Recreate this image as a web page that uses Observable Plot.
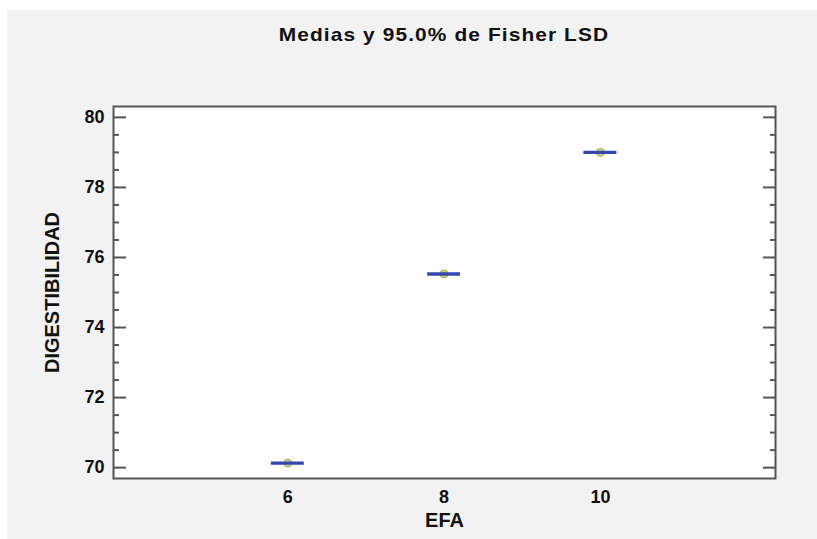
<!DOCTYPE html>
<html><head><meta charset="utf-8">
<script src="https://cdn.jsdelivr.net/npm/d3@7"></script>
<script src="https://cdn.jsdelivr.net/npm/@observablehq/plot@0.6"></script>
<style>
body{margin:0;background:#fff;font-family:"Liberation Sans",Arial,sans-serif;}
#wrap{position:absolute;left:7px;top:10px;width:810px;height:529px;background:#f2f2f2;}
#title{height:50px;line-height:50px;margin-left:106px;width:662px;text-align:center;font-weight:bold;font-size:19px;color:#111;letter-spacing:1px;transform:scaleX(1.1);transform-origin:center;}
#chart svg{display:block;}
</style></head><body>
<div id="wrap"><div id="title">Medias y 95.0% de Fisher LSD</div><div id="chart"></div></div>
<script>
const efa = [6, 8, 10];
const medias = [70.13, 75.53, 79.0];
const lsdHalf = [0.02, 0.02, 0.02];
const xTicks = [6, 8, 10];
const yTicks = [70, 72, 74, 76, 78, 80];
const yMinorTicks = [70.5, 71, 71.5, 72.5, 73, 73.5, 74.5, 75, 75.5, 76.5, 77, 77.5, 78.5, 79, 79.5];
const capHalf = 0.21;

const rows = efa.map((e, i) => ({efa: e, media: medias[i], lo: medias[i] - lsdHalf[i], hi: medias[i] + lsdHalf[i]}));
const axisStroke = "#555";

const chart = Plot.plot({
  width: 810,
  height: 479,
  marginLeft: 106,
  marginRight: 42,
  marginTop: 46,
  marginBottom: 61,
  style: {background: "transparent", fontFamily: "'Liberation Sans', Arial, sans-serif", color: "#111"},
  x: {domain: [3.77, 12.24]},
  y: {domain: [69.69, 80.31]},
  marks: [
    Plot.frame({fill: "white", stroke: null}),
    Plot.axisY(yTicks, {anchor: "left", tickSize: -13, tickFormat: () => "", label: null, stroke: axisStroke, strokeWidth: 2}),
    Plot.axisY(yMinorTicks, {anchor: "left", tickSize: -6, tickFormat: () => "", label: null, stroke: axisStroke, strokeWidth: 2}),
    Plot.axisY(yTicks, {anchor: "right", tickSize: -13, tickFormat: () => "", label: null, stroke: axisStroke, strokeWidth: 2}),
    Plot.axisY(yMinorTicks, {anchor: "right", tickSize: -6, tickFormat: () => "", label: null, stroke: axisStroke, strokeWidth: 2}),
    Plot.axisY(yTicks, {anchor: "left", tickSize: 0, tickPadding: 9, label: null, fontSize: 18, fontWeight: "bold", fill: "#111"}),
    Plot.axisX(xTicks, {anchor: "bottom", tickSize: 0, tickPadding: 12, label: null, fontSize: 18, fontWeight: "bold", fill: "#111"}),
    Plot.dot(rows, {x: "efa", y: "media", r: 4, fill: "#d2d27a", stroke: "#a8a850", strokeWidth: 1}),
    Plot.ruleX(rows, {x: "efa", y1: "lo", y2: "hi", stroke: "#3347b0", strokeWidth: 2}),
    Plot.ruleY(rows, {y: "lo", x1: d => d.efa - capHalf, x2: d => d.efa + capHalf, stroke: "#3347b0", strokeWidth: 2}),
    Plot.ruleY(rows, {y: "hi", x1: d => d.efa - capHalf, x2: d => d.efa + capHalf, stroke: "#3347b0", strokeWidth: 2}),
    Plot.frame({stroke: axisStroke, strokeWidth: 2}),
    Plot.text(["EFA"], {text: d => d, frameAnchor: "bottom", dy: 48, fontSize: 20, fontWeight: "bold", fill: "#111"}),
    Plot.text(["DIGESTIBILIDAD"], {text: d => d, frameAnchor: "left", textAnchor: "middle", dx: -61, rotate: -90, fontSize: 20, fontWeight: "bold", fill: "#111"})
  ]
});
document.getElementById("chart").appendChild(chart);
</script>
</body></html>
